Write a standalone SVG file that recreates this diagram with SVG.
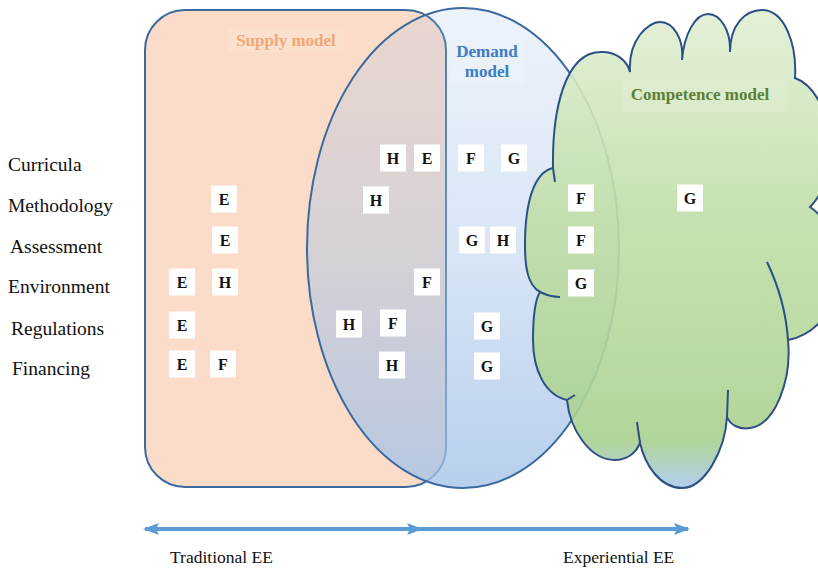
<svg xmlns="http://www.w3.org/2000/svg" width="818" height="570" viewBox="0 0 818 570">
<defs>
<linearGradient id="gEll" gradientUnits="userSpaceOnUse" x1="0" y1="8" x2="0" y2="488">
<stop offset="0" stop-color="#A3C2E8" stop-opacity="0.2"/>
<stop offset="0.5" stop-color="#A3C2E8" stop-opacity="0.42"/>
<stop offset="1" stop-color="#A3C2E8" stop-opacity="0.78"/>
</linearGradient>
<linearGradient id="gCloud" gradientUnits="userSpaceOnUse" x1="0" y1="10" x2="0" y2="488">
<stop offset="0" stop-color="#E0EFD4"/>
<stop offset="0.4" stop-color="#C2DFAA"/>
<stop offset="0.8" stop-color="#AFD495"/>
<stop offset="0.9" stop-color="#A9D08F"/>
<stop offset="1" stop-color="#A9C9EC"/>
</linearGradient>
<marker id="ah" viewBox="0 0 16 12" refX="14" refY="6" markerWidth="16" markerHeight="12" markerUnits="userSpaceOnUse" orient="auto-start-reverse">
<path d="M0,0 L16,6 L0,12 L3,6 Z" fill="#5B9BD5"/>
</marker>
</defs>
<style>
.outl{stroke:#3A6A9E;stroke-width:2;}
.box{fill:#FFFFFF;}
.lt{font-family:"Liberation Serif","Times New Roman",serif;font-weight:bold;font-size:16px;fill:#111;text-anchor:middle;}
.lbl{font-family:"Liberation Serif","Times New Roman",serif;font-size:19.5px;fill:#111;}
.ax{font-family:"Liberation Serif","Times New Roman",serif;font-size:17.5px;fill:#111;}
.ttl{font-family:"Liberation Serif","Times New Roman",serif;font-weight:bold;font-size:17px;text-anchor:middle;}
.tail{fill:none;stroke:#2C4F86;stroke-width:2;}
.arr{stroke:#5B9BD5;stroke-width:4;fill:none;}
.tb{fill:#FFFFFF;opacity:0.12;}
</style>
<rect width="818" height="570" fill="#FFFFFF"/>

<g id="supply">
<rect x="145" y="10" width="301" height="477" rx="40" ry="40" fill="#FBDCC8" class="outl"/>
<rect class="tb" x="228" y="28" width="116" height="24"/>
<text class="ttl" x="286" y="46" fill="#F0A874">Supply model</text>
</g>

<g id="demand">
<ellipse cx="463" cy="248" rx="156" ry="240" fill="url(#gEll)" class="outl"/>
<rect class="tb" x="450" y="40" width="74" height="44"/>
<text class="ttl" x="487" y="57" fill="#3E7CC4">Demand</text>
<text class="ttl" x="487" y="77" fill="#3E7CC4">model</text>
</g>

<g id="competence">
<path fill="url(#gCloud)" fill-opacity="0.9" stroke="#2C4F86" stroke-width="2" d="M553,168 C552,110 565,53 600,52 C615,51 627,60 630,72 C628,40 648,22 660,22 C674,22 684,40 682,60 C684,35 695,14 708,14 C720,14 731,30 730,52 C730,25 745,10 762,10 C785,10 797,45 795,78 C815,85 830,115 830,145 C830,175 822,195 810,207 C830,220 840,250 838,280 C836,310 815,335 788,340 C792,380 775,425 750,428 C740,430 730,425 727,417 C725,450 705,488 682,488 C660,488 645,465 640,443 C635,455 625,460 615,460 C590,460 570,430 567,400 C545,395 533,370 533,340 C533,315 535,300 540,292 C527,285 525,265 525,245 C525,200 535,172 553,168 Z"/>
<path class="tail" d="M553,168 L555,182 M767,262 C778,285 786,310 788,340 M728,390 L727,417 M637,422 L640,443 M575,395 L567,400 M540,292 C548,296 554,297 560,297"/>
<rect class="tb" x="622" y="80" width="166" height="32"/>
<text class="ttl" x="700" y="100" fill="#5E7F34">Competence model</text>
</g>

<g id="labels">
<text class="lbl" x="8" y="171">Curricula</text>
<text class="lbl" x="8" y="212">Methodology</text>
<text class="lbl" x="10" y="253">Assessment</text>
<text class="lbl" x="8" y="293">Environment</text>
<text class="lbl" x="11" y="335">Regulations</text>
<text class="lbl" x="12" y="375">Financing</text>
</g>

<g id="r1-H" transform="translate(393,158)"><rect class="box" x="-13" y="-13.5" width="26" height="27"/><text class="lt" y="5.5">H</text></g>
<g id="r1-E" transform="translate(427,158)"><rect class="box" x="-13" y="-13.5" width="26" height="27"/><text class="lt" y="5.5">E</text></g>
<g id="r1-F" transform="translate(471,158)"><rect class="box" x="-13" y="-13.5" width="26" height="27"/><text class="lt" y="5.5">F</text></g>
<g id="r1-G" transform="translate(514,158)"><rect class="box" x="-13" y="-13.5" width="26" height="27"/><text class="lt" y="5.5">G</text></g>

<g id="r2-E" transform="translate(224,199)"><rect class="box" x="-13" y="-13.5" width="26" height="27"/><text class="lt" y="5.5">E</text></g>
<g id="r2-H" transform="translate(376,200)"><rect class="box" x="-13" y="-13.5" width="26" height="27"/><text class="lt" y="5.5">H</text></g>
<g id="r2-F" transform="translate(581,198)"><rect class="box" x="-13" y="-13.5" width="26" height="27"/><text class="lt" y="5.5">F</text></g>
<g id="r2-G" transform="translate(690,198)"><rect class="box" x="-13" y="-13.5" width="26" height="27"/><text class="lt" y="5.5">G</text></g>

<g id="r3-E" transform="translate(225,240)"><rect class="box" x="-13" y="-13.5" width="26" height="27"/><text class="lt" y="5.5">E</text></g>
<g id="r3-G" transform="translate(472,240)"><rect class="box" x="-13" y="-13.5" width="26" height="27"/><text class="lt" y="5.5">G</text></g>
<g id="r3-H" transform="translate(503,240)"><rect class="box" x="-13" y="-13.5" width="26" height="27"/><text class="lt" y="5.5">H</text></g>
<g id="r3-F" transform="translate(581,240)"><rect class="box" x="-13" y="-13.5" width="26" height="27"/><text class="lt" y="5.5">F</text></g>

<g id="r4-E" transform="translate(182,282)"><rect class="box" x="-13" y="-13.5" width="26" height="27"/><text class="lt" y="5.5">E</text></g>
<g id="r4-H" transform="translate(225,282)"><rect class="box" x="-13" y="-13.5" width="26" height="27"/><text class="lt" y="5.5">H</text></g>
<g id="r4-F" transform="translate(427,282)"><rect class="box" x="-13" y="-13.5" width="26" height="27"/><text class="lt" y="5.5">F</text></g>
<g id="r4-G" transform="translate(581,283)"><rect class="box" x="-13" y="-13.5" width="26" height="27"/><text class="lt" y="5.5">G</text></g>

<g id="r5-E" transform="translate(182,325)"><rect class="box" x="-13" y="-13.5" width="26" height="27"/><text class="lt" y="5.5">E</text></g>
<g id="r5-H" transform="translate(349,324)"><rect class="box" x="-13" y="-13.5" width="26" height="27"/><text class="lt" y="5.5">H</text></g>
<g id="r5-F" transform="translate(393,323)"><rect class="box" x="-13" y="-13.5" width="26" height="27"/><text class="lt" y="5.5">F</text></g>
<g id="r5-G" transform="translate(487,326)"><rect class="box" x="-13" y="-13.5" width="26" height="27"/><text class="lt" y="5.5">G</text></g>

<g id="r6-E" transform="translate(182,364)"><rect class="box" x="-13" y="-13.5" width="26" height="27"/><text class="lt" y="5.5">E</text></g>
<g id="r6-F" transform="translate(223,364)"><rect class="box" x="-13" y="-13.5" width="26" height="27"/><text class="lt" y="5.5">F</text></g>
<g id="r6-H" transform="translate(392,365)"><rect class="box" x="-13" y="-13.5" width="26" height="27"/><text class="lt" y="5.5">H</text></g>
<g id="r6-G" transform="translate(487,366)"><rect class="box" x="-13" y="-13.5" width="26" height="27"/><text class="lt" y="5.5">G</text></g>

<g id="connectors">
<line class="arr" x1="145" y1="529" x2="421" y2="529" marker-start="url(#ah)" marker-end="url(#ah)"/>
<line class="arr" x1="418" y1="529" x2="688" y2="529" marker-end="url(#ah)"/>
</g>

<g id="axis-labels">
<text class="ax" x="170" y="563">Traditional EE</text>
<text class="ax" x="563" y="563">Experiential EE</text>
</g>
</svg>
